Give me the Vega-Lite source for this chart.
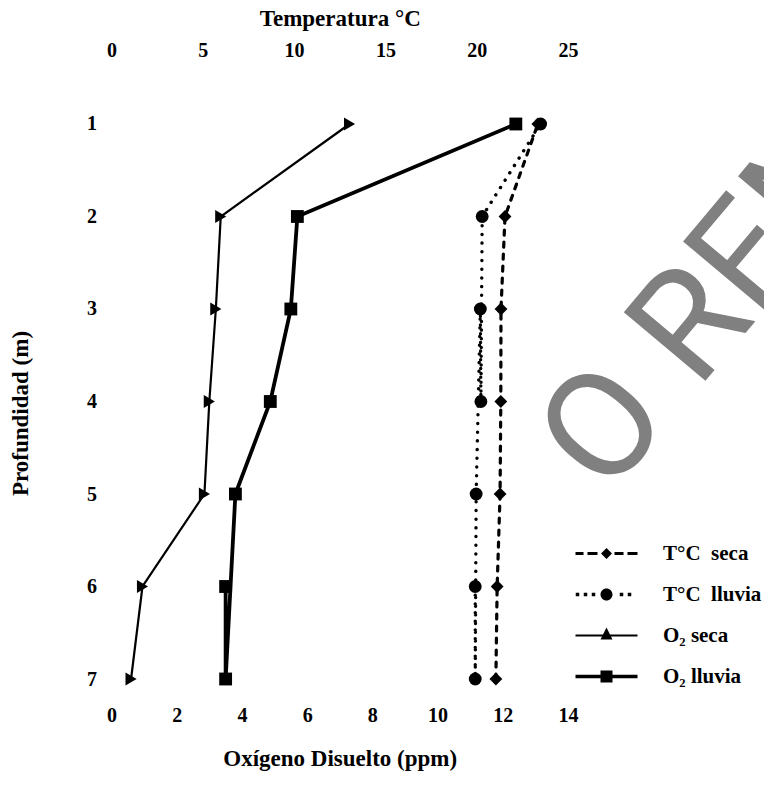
{
  "$schema": "https://vega.github.io/schema/vega-lite/v6.json",
  "width": 456.5,
  "height": 636,
  "autosize": "none",
  "padding": {"left": 111.5, "top": 64, "right": 196, "bottom": 102},
  "background": "white",
  "config": {
    "view": {"stroke": null},
    "axis": {
      "domain": false, "ticks": false, "grid": false,
      "labelFont": "Liberation Serif", "labelFontWeight": "bold", "labelFontSize": 20, "labelColor": "black",
      "titleFont": "Liberation Serif", "titleFontWeight": "bold", "titleFontSize": 23, "titleColor": "black",
      "labelFlush": false
    }
  },
  "datasets": {
    "tseca": [
      {"serie": "T°C\u00a0 seca", "depth": 1, "t": 23.35},
      {"serie": "T°C\u00a0 seca", "depth": 2, "t": 21.55},
      {"serie": "T°C\u00a0 seca", "depth": 3, "t": 21.33},
      {"serie": "T°C\u00a0 seca", "depth": 4, "t": 21.32},
      {"serie": "T°C\u00a0 seca", "depth": 5, "t": 21.28},
      {"serie": "T°C\u00a0 seca", "depth": 6, "t": 21.12},
      {"serie": "T°C\u00a0 seca", "depth": 7, "t": 21.05}
    ],
    "tlluvia": [
      {"serie": "T°C\u00a0 lluvia", "depth": 1, "t": 23.5},
      {"serie": "T°C\u00a0 lluvia", "depth": 2, "t": 20.3},
      {"serie": "T°C\u00a0 lluvia", "depth": 3, "t": 20.2},
      {"serie": "T°C\u00a0 lluvia", "depth": 4, "t": 20.23},
      {"serie": "T°C\u00a0 lluvia", "depth": 5, "t": 19.97},
      {"serie": "T°C\u00a0 lluvia", "depth": 6, "t": 19.92},
      {"serie": "T°C\u00a0 lluvia", "depth": 7, "t": 19.92}
    ],
    "o2seca": [
      {"serie": "O₂ seca", "depth": 1, "o2": 7.3},
      {"serie": "O₂ seca", "depth": 2, "o2": 3.35},
      {"serie": "O₂ seca", "depth": 3, "o2": 3.2},
      {"serie": "O₂ seca", "depth": 4, "o2": 3.0},
      {"serie": "O₂ seca", "depth": 5, "o2": 2.85},
      {"serie": "O₂ seca", "depth": 6, "o2": 0.95},
      {"serie": "O₂ seca", "depth": 7, "o2": 0.6}
    ],
    "o2lluvia": [
      {"serie": "O₂ lluvia", "depth": 1, "o2": 12.4},
      {"serie": "O₂ lluvia", "depth": 2, "o2": 5.7},
      {"serie": "O₂ lluvia", "depth": 3, "o2": 5.5},
      {"serie": "O₂ lluvia", "depth": 4, "o2": 4.87},
      {"serie": "O₂ lluvia", "depth": 5, "o2": 3.8},
      {"serie": "O₂ lluvia", "depth": 6, "o2": 3.5},
      {"serie": "O₂ lluvia", "depth": 7, "o2": 3.5}
    ],
    "marca": [
      {"txt": "O REM", "x": 18.57, "depth": 2.87}
    ]
  },
  "layer": [
    {
      "data": {"name": "marca"},
      "mark": {"type": "text", "font": "Roboto", "fontWeight": "normal", "fontSize": 150, "angle": -50, "color": "#808080", "align": "center", "baseline": "middle"},
      "encoding": {
        "x": {"field": "x", "type": "quantitative", "scale": {"domain": [0, 14], "nice": false, "zero": false}, "axis": null},
        "y": {"field": "depth", "type": "quantitative", "scale": {"domain": [0.3514, 7.227], "reverse": true, "nice": false, "zero": false},
              "axis": {"values": [1, 2, 3, 4, 5, 6, 7], "title": "Profundidad (m)", "labelPadding": 15, "titlePadding": 54, "titleY": 349}},
        "text": {"field": "txt"}
      }
    },
    {
      "encoding": {
        "x": {"field": "t", "type": "quantitative", "scale": {"domain": [0, 25], "nice": false, "zero": false},
              "axis": {"orient": "top", "values": [0, 5, 10, 15, 20, 25], "title": "Temperatura °C", "labelPadding": 4, "titlePadding": 10}},
        "y": {"field": "depth", "type": "quantitative", "scale": {"domain": [0.3514, 7.227], "reverse": true, "nice": false, "zero": false},
              "axis": {"values": [1, 2, 3, 4, 5, 6, 7], "title": "Profundidad (m)", "labelPadding": 15, "titlePadding": 54, "titleY": 349}}
      },
      "layer": [
        {"data": {"name": "tseca"}, "mark": {"type": "line", "color": "black", "strokeDash": [5, 7], "strokeWidth": 3.2, "strokeCap": "round"}},
        {"data": {"name": "tlluvia"}, "mark": {"type": "line", "color": "black", "strokeDash": [0.1, 8.6], "strokeWidth": 3.4, "strokeCap": "round"}},
        {"data": {"name": "tseca"}, "mark": {"type": "point", "shape": "diamond", "filled": true, "color": "black", "opacity": 1, "size": 165}},
        {"data": {"name": "tlluvia"}, "mark": {"type": "point", "shape": "circle", "filled": true, "color": "black", "opacity": 1, "size": 165}},
        {
          "data": {"name": "tseca"},
          "mark": {"type": "point", "filled": true, "color": "black", "opacity": 0},
          "encoding": {
            "shape": {"field": "serie", "type": "nominal",
              "scale": {"domain": ["T°C\u00a0 seca", "T°C\u00a0 lluvia", "O₂ seca", "O₂ lluvia"],
                        "range": ["M-3.1,-0.15H-2.3V0.15H-3.1ZM-1.9,-0.15H-0.9V0.15H-1.9ZM0.8,-0.15H1.7V0.15H0.8ZM2.1,-0.15H3.1V0.15H2.1ZM0,-0.55L0.55,0L0,0.55L-0.55,0Z",
                                  "M-3.075,-0.175h0.35v0.35h-0.35ZM-2.275,-0.175h0.35v0.35h-0.35ZM-1.475,-0.175h0.35v0.35h-0.35ZM1.325,-0.175h0.35v0.35h-0.35ZM2.125,-0.175h0.35v0.35h-0.35ZM-0.6,0a0.6,0.6 0 1,0 1.2,0a0.6,0.6 0 1,0 -1.2,0Z",
                                  "M-3.1,-0.1H3.1V0.1H-3.1ZM0,-0.8L0.6,0.4L-0.6,0.4Z",
                                  "M-3.1,-0.18H3.1V0.18H-3.1ZM-0.6,-0.6H0.6V0.6H-0.6Z"]},
              "legend": {
                "title": null, "orient": "none", "legendX": 484.5, "legendY": 479,
                "symbolSize": 400, "symbolOpacity": 1, "symbolStrokeWidth": 0, "labelOffset": 46, "rowPadding": 19,
                "labelFont": "Liberation Serif", "labelFontWeight": "bold", "labelFontSize": 21, "labelColor": "black"
              }
            }
          }
        }
      ]
    },
    {
      "encoding": {
        "x": {"field": "o2", "type": "quantitative", "scale": {"domain": [0, 14], "nice": false, "zero": false},
              "axis": {"orient": "bottom", "values": [0, 2, 4, 6, 8, 10, 12, 14], "title": "Oxígeno Disuelto (ppm)", "labelPadding": 5, "titlePadding": 22}},
        "y": {"field": "depth", "type": "quantitative", "scale": {"domain": [0.3514, 7.227], "reverse": true, "nice": false, "zero": false},
              "axis": {"values": [1, 2, 3, 4, 5, 6, 7], "title": "Profundidad (m)", "labelPadding": 15, "titlePadding": 54, "titleY": 349}}
      },
      "layer": [
        {"data": {"name": "o2seca"}, "mark": {"type": "line", "color": "black", "strokeWidth": 2.2, "strokeCap": "round"}},
        {"data": {"name": "o2lluvia"}, "mark": {"type": "line", "color": "black", "strokeWidth": 3.8, "strokeCap": "round"}},
        {"data": {"name": "o2seca"}, "mark": {"type": "point", "shape": "triangle-right", "filled": true, "color": "black", "opacity": 1, "size": 165}},
        {"data": {"name": "o2lluvia"}, "mark": {"type": "point", "shape": "square", "filled": true, "color": "black", "opacity": 1, "size": 165}}
      ]
    }
  ],
  "resolve": {"scale": {"x": "independent"}}
}
